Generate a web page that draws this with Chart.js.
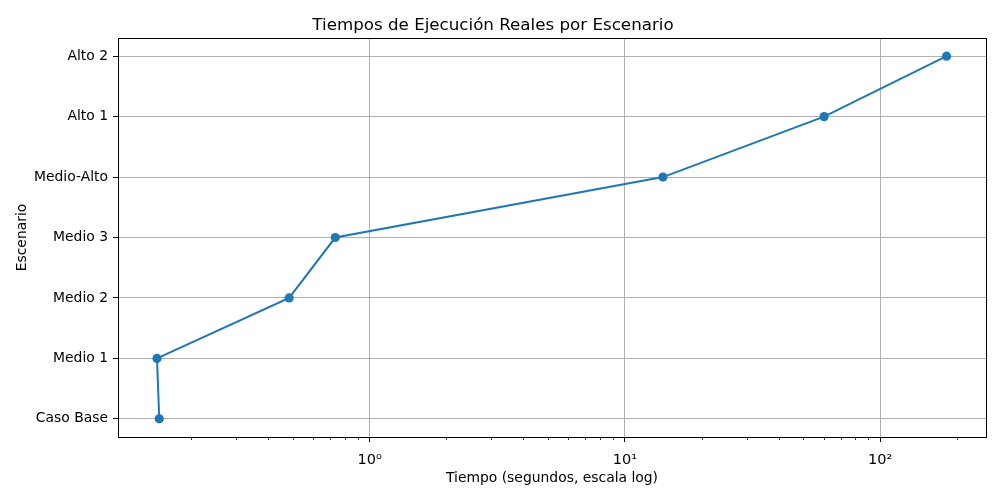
<!DOCTYPE html>
<html>
<head>
<meta charset="utf-8">
<script src="https://cdn.jsdelivr.net/npm/chart.js@4.4.1/dist/chart.umd.min.js"></script>
<style>
  html, body { margin:0; padding:0; background:#fff; }
  #wrap { width:1000px; height:500px; }
</style>
</head>
<body>
<div id="wrap"><canvas id="chart" width="1000" height="500"></canvas></div>
<script>
// data
const escenarios = ['Caso Base', 'Medio 1', 'Medio 2', 'Medio 3', 'Medio-Alto', 'Alto 1', 'Alto 2'];
const tiempos = [0.150, 0.147, 0.484, 0.734, 14.1, 60.3, 182];
const decadas = [1, 10, 100];
const decadaLabels = ['10⁰', '10¹', '10²'];

const xMin = 0.1034, xMax = 259.8;
const FONT = 'DejaVu Sans';
const BLUE = '#1f77b4';

// log tick positions: 2..9 x 10^n as minors, powers of ten as majors
function logTicks(){
  const out = [];
  for (let e = -1; e <= 2; e++){
    for (let m = 1; m <= 9; m++){
      const v = m * Math.pow(10, e);
      if (v >= xMin && v <= xMax) out.push({ value: v, major: m === 1 });
    }
  }
  return out;
}

const frame = {
  id: 'frame',
  afterDraw(c){
    const { ctx, chartArea: a } = c;
    const xs = c.scales.x;
    ctx.save();
    // minor ticks
    ctx.strokeStyle = '#000'; ctx.lineWidth = 0.8;
    xs.ticks.forEach(t => {
      if (t.major) return;
      const px = Math.round(xs.getPixelForValue(t.value)) + 0.5;
      ctx.beginPath(); ctx.moveTo(px, a.bottom); ctx.lineTo(px, a.bottom + 3); ctx.stroke();
    });
    // box
    ctx.lineWidth = 1;
    ctx.strokeRect(Math.round(a.left) + 0.5, Math.round(a.top) + 0.5, Math.round(a.right - a.left), Math.round(a.bottom - a.top));
    ctx.restore();
  }
};

new Chart(document.getElementById('chart'), {
  type: 'line',
  data: {
    datasets: [{
      data: tiempos.map((t, i) => ({ x: t, y: i })),
      borderColor: BLUE,
      backgroundColor: BLUE,
      borderWidth: 2,
      pointRadius: 4.6,
      pointHoverRadius: 4.6,
      pointBorderWidth: 0,
      tension: 0,
    }]
  },
  options: {
    responsive: false,
    devicePixelRatio: 1,
    animation: false,
    layout: { padding: { left: 0, right: 14, top: 0, bottom: 0 } },
    plugins: {
      legend: { display: false },
      tooltip: { enabled: false },
      title: {
        display: true,
        text: 'Tiempos de Ejecución Reales por Escenario',
        color: '#000',
        font: { family: FONT, size: 16.7, weight: 'normal' },
        padding: { top: 16, bottom: 2 }
      }
    },
    scales: {
      x: {
        type: 'logarithmic',
        min: xMin, max: xMax,
        afterBuildTicks: s => { s.ticks = logTicks(); },
        afterFit: s => { s.height = 63; },
        border: { display: false },
        grid: {
          color: ctx => (ctx.tick && ctx.tick.major) ? '#b0b0b0' : 'rgba(0,0,0,0)',
          tickColor: ctx => (ctx.tick && ctx.tick.major) ? '#000' : 'rgba(0,0,0,0)',
          lineWidth: 1,
          tickLength: 5,
        },
        ticks: {
          autoSkip: false,
          maxRotation: 0,
          color: '#000',
          padding: 10,
          font: { family: FONT, size: 14.5 },
          callback: v => { const k = decadas.indexOf(v); return k >= 0 ? decadaLabels[k] : ''; }
        },
        title: {
          display: true,
          text: 'Tiempo (segundos, escala log)',
          color: '#000',
          font: { family: FONT, size: 13.9 },
          padding: { top: 0, bottom: 13 }
        }
      },
      y: {
        type: 'linear',
        min: -0.3, max: 6.3,
        afterBuildTicks: s => { s.ticks = escenarios.map((_, i) => ({ value: i })); },
        afterFit: s => { s.width = 118; },
        border: { display: false },
        grid: { color: '#b0b0b0', lineWidth: 1, tickColor: '#000', tickLength: 5 },
        ticks: {
          color: '#000',
          padding: 5,
          font: { family: FONT, size: 13.9 },
          callback: v => escenarios[v] ?? ''
        },
        title: {
          display: true,
          text: 'Escenario',
          color: '#000',
          font: { family: FONT, size: 13.9 },
          padding: { top: 14, bottom: 0 }
        }
      }
    }
  },
  plugins: [frame]
});
</script>
</body>
</html>
